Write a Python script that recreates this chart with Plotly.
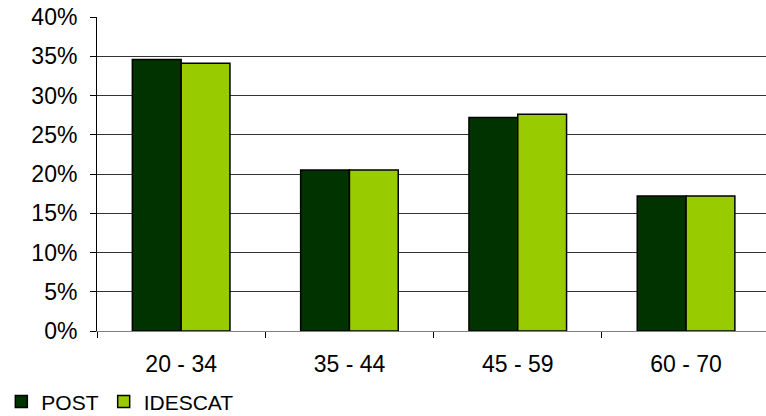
import plotly.graph_objects as go

categories = ["20 - 34", "35 - 44", "45 - 59", "60 - 70"]
post = [0.346, 0.205, 0.272, 0.172]
idescat = [0.341, 0.205, 0.276, 0.172]
y_ticks = [0, 0.05, 0.10, 0.15, 0.20, 0.25, 0.30, 0.35, 0.40]

FONT = "Liberation Sans, Arial, sans-serif"

fig = go.Figure()
fig.add_trace(go.Bar(x=categories, y=post, name="POST",
                     marker=dict(color="#003300", line=dict(color="#000000", width=1.5))))
fig.add_trace(go.Bar(x=categories, y=idescat, name="IDESCAT",
                     marker=dict(color="#99CC00", line=dict(color="#000000", width=1.5))))

fig.update_layout(
    width=766, height=416,
    margin=dict(l=97, r=0, t=17, b=85, autoexpand=False),
    paper_bgcolor="white", plot_bgcolor="white",
    barmode="group", bargap=0.42, bargroupgap=0,
    font=dict(family=FONT, size=23, color="#000000"),
    showlegend=True,
    legend=dict(orientation="h", x=-0.143, xanchor="left", y=-0.226, yanchor="middle",
                font=dict(family=FONT, size=21, color="#000000"),
                itemwidth=30, bgcolor="rgba(0,0,0,0)", traceorder="normal"),
)
fig.update_xaxes(type="category", range=[-0.5, 3.475], tickson="boundaries",
                 ticks="outside", ticklen=6, tickcolor="#000000", tickwidth=1,
                 showline=True, linecolor="#808080", linewidth=1, showgrid=False,
                 ticklabelstandoff=12, tickfont=dict(size=23))
fig.update_yaxes(range=[0, 0.4], tickvals=y_ticks, tickformat=".0%",
                 ticks="outside", ticklen=6, tickcolor="#000000", tickwidth=1,
                 showline=True, linecolor="#000000", linewidth=1,
                 showgrid=True, gridcolor="#333333", gridwidth=1,
                 zeroline=False, ticklabelstandoff=8, tickfont=dict(size=23))

fig.write_html("out.html")
